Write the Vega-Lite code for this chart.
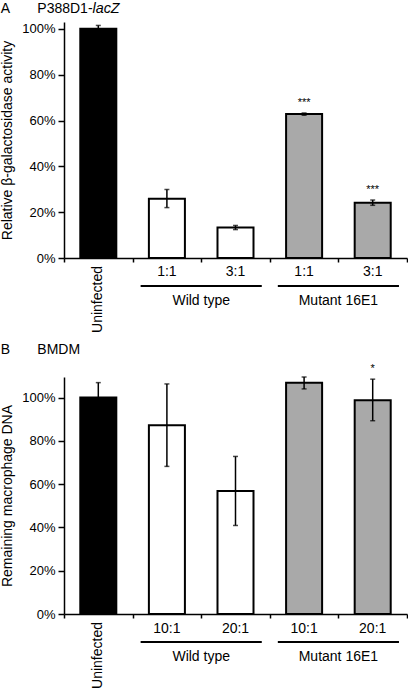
{
  "$schema": "https://vega.github.io/schema/vega-lite/v6.json",
  "padding": {"left": 0, "top": 1, "right": 0, "bottom": 0},
  "config": {
    "font": "Liberation Sans",
    "view": {"stroke": null},
    "concat": {"spacing": 10},
    "axis": {"labelFont": "Liberation Sans", "titleFont": "Liberation Sans", "labelColor": "black", "titleColor": "black", "domainColor": "black", "tickColor": "black", "domainWidth": 1.5, "tickWidth": 1.5, "labelFontSize": 13, "titleFontSize": 14, "titleFontWeight": "normal", "grid": false},
    "title": {"font": "Liberation Sans", "fontSize": 14, "fontWeight": "normal", "anchor": "start", "color": "black", "offset": 6, "subtitleFont": "Liberation Sans", "subtitleFontSize": 14.36, "subtitleFontStyle": "italic", "subtitleColor": "black", "subtitlePadding": -14},
    "text": {"font": "Liberation Sans", "color": "black"}
  },
  "datasets": {
    "a": [
      {"key": "U", "label": "Uninfected", "group": "Uninfected", "value": 100, "lo": 98.5, "hi": 101.5, "star": ""},
      {"key": "W1", "label": "1:1", "group": "Wild type", "value": 25.9, "lo": 22, "hi": 29.9, "star": ""},
      {"key": "W3", "label": "3:1", "group": "Wild type", "value": 13.3, "lo": 12.4, "hi": 14.2, "star": ""},
      {"key": "M1", "label": "1:1", "group": "Mutant 16E1", "value": 62.8, "lo": 62.3, "hi": 63.3, "star": "***"},
      {"key": "M3", "label": "3:1", "group": "Mutant 16E1", "value": 24.1, "lo": 23, "hi": 25.3, "star": "***"}
    ],
    "b": [
      {"key": "U", "label": "Uninfected", "group": "Uninfected", "value": 100, "lo": 93, "hi": 106.9, "star": ""},
      {"key": "W1", "label": "10:1", "group": "Wild type", "value": 87.2, "lo": 68.2, "hi": 106.3, "star": ""},
      {"key": "W3", "label": "20:1", "group": "Wild type", "value": 56.8, "lo": 40.9, "hi": 72.8, "star": ""},
      {"key": "M1", "label": "10:1", "group": "Mutant 16E1", "value": 106.8, "lo": 104, "hi": 109.5, "star": ""},
      {"key": "M3", "label": "20:1", "group": "Mutant 16E1", "value": 98.8, "lo": 89.3, "hi": 108.5, "star": "*"}
    ],
    "groups": [
      {"name": "Wild type", "from": "W1", "to": "W3"},
      {"name": "Mutant 16E1", "from": "M1", "to": "M3"}
    ]
  },
  "vconcat": [
    {
      "title": {"text": "A\u00a0\u00a0\u00a0\u00a0\u00a0\u00a0\u00a0P388D1-", "subtitle": "\u200b\u00a0\u00a0\u00a0\u00a0\u00a0\u00a0\u00a0\u00a0\u00a0\u00a0\u00a0\u00a0\u00a0\u00a0\u00a0\u00a0\u00a0\u00a0\u00a0\u00a0\u00a0\u00a0\u00a0lacZ"},
      "width": 343,
      "height": 236,
      "data": {"name": "a"},
      "layer": [
        {
          "mark": {"type": "bar", "width": {"band": 0.525}, "stroke": "black", "strokeWidth": 2},
          "encoding": {
            "x": {"field": "key", "type": "nominal", "scale": {"domain": ["U", "W1", "W3", "M1", "M3"], "paddingInner": 0, "paddingOuter": 0}, "axis": {"labels": false, "title": null, "tickBand": "extent", "tickSize": 4}},
            "y": {"field": "value", "type": "quantitative", "scale": {"domain": [0, 103], "nice": false}, "axis": {"values": [0, 10, 20, 30, 40, 50, 60, 70, 80, 90, 100], "labelExpr": "datum.value % 20 == 0 ? datum.value + '%' : ''", "tickSize": {"condition": {"test": "datum.value % 20 != 0", "value": 3}, "value": 6}, "labelPadding": 3, "titlePadding": 7, "title": "Relative β-galactosidase activity"}},
            "fill": {"field": "group", "type": "nominal", "scale": {"domain": ["Uninfected", "Wild type", "Mutant 16E1"], "range": ["#000000", "#ffffff", "#a9a9a9"]}, "legend": null}
          }
        },
        {
          "mark": {"type": "rule", "color": "black", "strokeWidth": 1.5},
          "encoding": {"x": {"field": "key", "type": "nominal"}, "y": {"field": "lo", "type": "quantitative"}, "y2": {"field": "hi"}}
        },
        {
          "mark": {"type": "tick", "color": "black", "size": 5, "thickness": 1.5},
          "encoding": {"x": {"field": "key", "type": "nominal"}, "y": {"field": "lo", "type": "quantitative"}}
        },
        {
          "mark": {"type": "tick", "color": "black", "size": 5, "thickness": 1.5},
          "encoding": {"x": {"field": "key", "type": "nominal"}, "y": {"field": "hi", "type": "quantitative"}}
        },
        {
          "transform": [{"filter": "datum.star != ''"}],
          "mark": {"type": "text", "fontSize": 11, "baseline": "middle", "yOffset": -10},
          "encoding": {"x": {"field": "key", "type": "nominal"}, "y": {"field": "hi", "type": "quantitative"}, "text": {"field": "star"}}
        },
        {
          "transform": [{"filter": "datum.key != 'U'"}],
          "mark": {"type": "text", "fontSize": 14, "baseline": "middle", "yOffset": 14},
          "encoding": {"x": {"field": "key", "type": "nominal"}, "y": {"datum": 0}, "text": {"field": "label"}}
        },
        {
          "transform": [{"filter": "datum.key == 'U'"}],
          "mark": {"type": "text", "fontSize": 14, "angle": 270, "align": "right", "baseline": "middle", "yOffset": 8},
          "encoding": {"x": {"field": "key", "type": "nominal"}, "y": {"datum": 0}, "text": {"field": "label"}}
        },
        {
          "data": {"name": "groups"},
          "mark": {"type": "rule", "color": "black", "strokeWidth": 2, "yOffset": 28},
          "encoding": {"x": {"field": "from", "type": "nominal", "bandPosition": 0.117}, "x2": {"field": "to", "bandPosition": 0.883}, "y": {"datum": 0}}
        },
        {
          "data": {"name": "groups"},
          "mark": {"type": "text", "fontSize": 14, "baseline": "middle", "yOffset": 43},
          "encoding": {"x": {"field": "from", "type": "nominal", "bandPosition": 1}, "y": {"datum": 0}, "text": {"field": "name"}}
        }
      ]
    },
    {
      "title": {"text": "B\u00a0\u00a0\u00a0\u00a0\u00a0\u00a0\u00a0BMDM"},
      "width": 343,
      "height": 237,
      "data": {"name": "b"},
      "layer": [
        {
          "mark": {"type": "bar", "width": {"band": 0.525}, "stroke": "black", "strokeWidth": 2},
          "encoding": {
            "x": {"field": "key", "type": "nominal", "scale": {"domain": ["U", "W1", "W3", "M1", "M3"], "paddingInner": 0, "paddingOuter": 0}, "axis": {"labels": false, "title": null, "tickBand": "extent", "tickSize": 4}},
            "y": {"field": "value", "type": "quantitative", "scale": {"domain": [0, 109.5], "nice": false}, "axis": {"values": [0, 10, 20, 30, 40, 50, 60, 70, 80, 90, 100], "labelExpr": "datum.value % 20 == 0 ? datum.value + '%' : ''", "tickSize": {"condition": {"test": "datum.value % 20 != 0", "value": 3}, "value": 6}, "labelPadding": 3, "titlePadding": 7, "title": "Remaining macrophage DNA"}},
            "fill": {"field": "group", "type": "nominal", "scale": {"domain": ["Uninfected", "Wild type", "Mutant 16E1"], "range": ["#000000", "#ffffff", "#a9a9a9"]}, "legend": null}
          }
        },
        {
          "mark": {"type": "rule", "color": "black", "strokeWidth": 1.5},
          "encoding": {"x": {"field": "key", "type": "nominal"}, "y": {"field": "lo", "type": "quantitative"}, "y2": {"field": "hi"}}
        },
        {
          "mark": {"type": "tick", "color": "black", "size": 5, "thickness": 1.5},
          "encoding": {"x": {"field": "key", "type": "nominal"}, "y": {"field": "lo", "type": "quantitative"}}
        },
        {
          "mark": {"type": "tick", "color": "black", "size": 5, "thickness": 1.5},
          "encoding": {"x": {"field": "key", "type": "nominal"}, "y": {"field": "hi", "type": "quantitative"}}
        },
        {
          "transform": [{"filter": "datum.star != ''"}],
          "mark": {"type": "text", "fontSize": 11, "baseline": "middle", "yOffset": -10},
          "encoding": {"x": {"field": "key", "type": "nominal"}, "y": {"field": "hi", "type": "quantitative"}, "text": {"field": "star"}}
        },
        {
          "transform": [{"filter": "datum.key != 'U'"}],
          "mark": {"type": "text", "fontSize": 14, "baseline": "middle", "yOffset": 15},
          "encoding": {"x": {"field": "key", "type": "nominal"}, "y": {"datum": 0}, "text": {"field": "label"}}
        },
        {
          "transform": [{"filter": "datum.key == 'U'"}],
          "mark": {"type": "text", "fontSize": 14, "angle": 270, "align": "right", "baseline": "middle", "yOffset": 8},
          "encoding": {"x": {"field": "key", "type": "nominal"}, "y": {"datum": 0}, "text": {"field": "label"}}
        },
        {
          "data": {"name": "groups"},
          "mark": {"type": "rule", "color": "black", "strokeWidth": 2, "yOffset": 28},
          "encoding": {"x": {"field": "from", "type": "nominal", "bandPosition": 0.117}, "x2": {"field": "to", "bandPosition": 0.883}, "y": {"datum": 0}}
        },
        {
          "data": {"name": "groups"},
          "mark": {"type": "text", "fontSize": 14, "baseline": "middle", "yOffset": 43},
          "encoding": {"x": {"field": "from", "type": "nominal", "bandPosition": 1}, "y": {"datum": 0}, "text": {"field": "name"}}
        }
      ]
    }
  ]
}
